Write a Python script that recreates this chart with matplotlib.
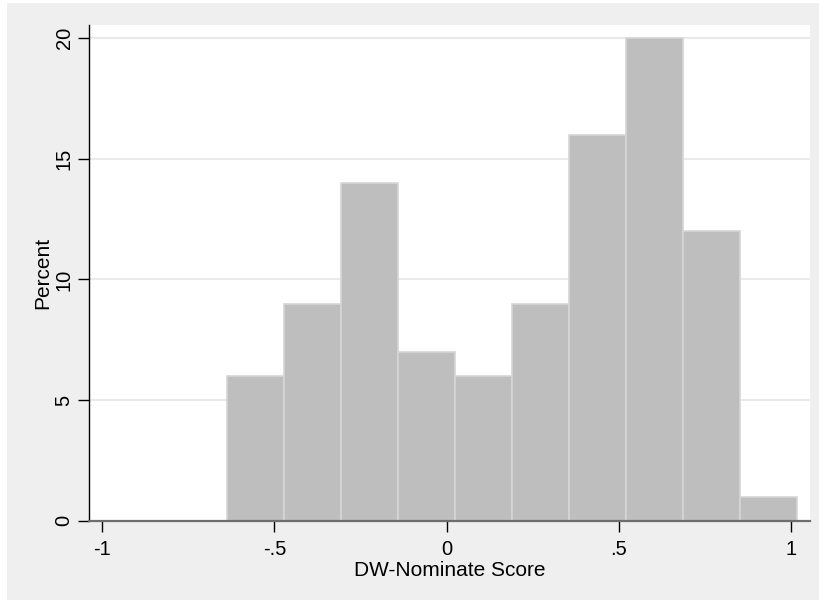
import matplotlib
matplotlib.use("Agg")
import matplotlib.pyplot as plt
from matplotlib.patches import Rectangle

# Data
bin_start = -0.638
bin_width = 0.1657
percents = [6, 9, 14, 7, 6, 9, 16, 20, 12, 1]
xticks = [-1, -0.5, 0, 0.5, 1]
xtick_labels = ["-1", "-.5", "0", ".5", "1"]
yticks = [0, 5, 10, 15, 20]
ytick_labels = ["0", "5", "10", "15", "20"]

plt.rcParams['font.family'] = ['Liberation Sans', 'DejaVu Sans']

fig = plt.figure(figsize=(8.2, 6.01), dpi=100, facecolor="white")
fig.patches.append(Rectangle((7 / 820, 1 / 601), 1 - 7 / 820, (601 - 4) / 601,
                             transform=fig.transFigure, facecolor="#EFEFEF",
                             edgecolor="none", zorder=-10))

ax = fig.add_axes([89 / 820, (601 - 520.7) / 601, (810 - 89) / 820, (520.7 - 25) / 601])
ax.set_facecolor("white")

lefts = [bin_start + i * bin_width for i in range(len(percents))]
ax.bar(lefts, percents, width=bin_width, align="edge", color="#BEBEBE",
       edgecolor="#D6D6D6", linewidth=1.2, zorder=3)

ax.set_xlim(-1.0387, 1.056)
ax.set_ylim(0, 20.55)

ax.set_xticks(xticks)
ax.set_xticklabels(xtick_labels)
ax.set_yticks(yticks)
ax.set_yticklabels(ytick_labels, rotation=90, va="center")

for y in yticks[1:]:
    ax.axhline(y, color="#EAEAEA", linewidth=1.5, zorder=1)

for s in ["top", "right"]:
    ax.spines[s].set_visible(False)
ax.spines["left"].set_color("black")
ax.spines["left"].set_linewidth(1.0)
ax.spines["bottom"].set_color("#6E6E6E")
ax.spines["bottom"].set_linewidth(1.6)
ax.spines["bottom"].set_zorder(5)

ax.tick_params(axis="x", length=8, width=1, color="black", labelsize=14.5, pad=6)
ax.tick_params(axis="y", length=8, width=1, color="black", labelsize=14.5, pad=3)

ax.set_xlabel("DW-Nominate Score", fontsize=15, labelpad=1)
ax.set_ylabel("Percent", fontsize=15, labelpad=2)

fig.savefig("out.png", dpi=100, facecolor=fig.get_facecolor())
